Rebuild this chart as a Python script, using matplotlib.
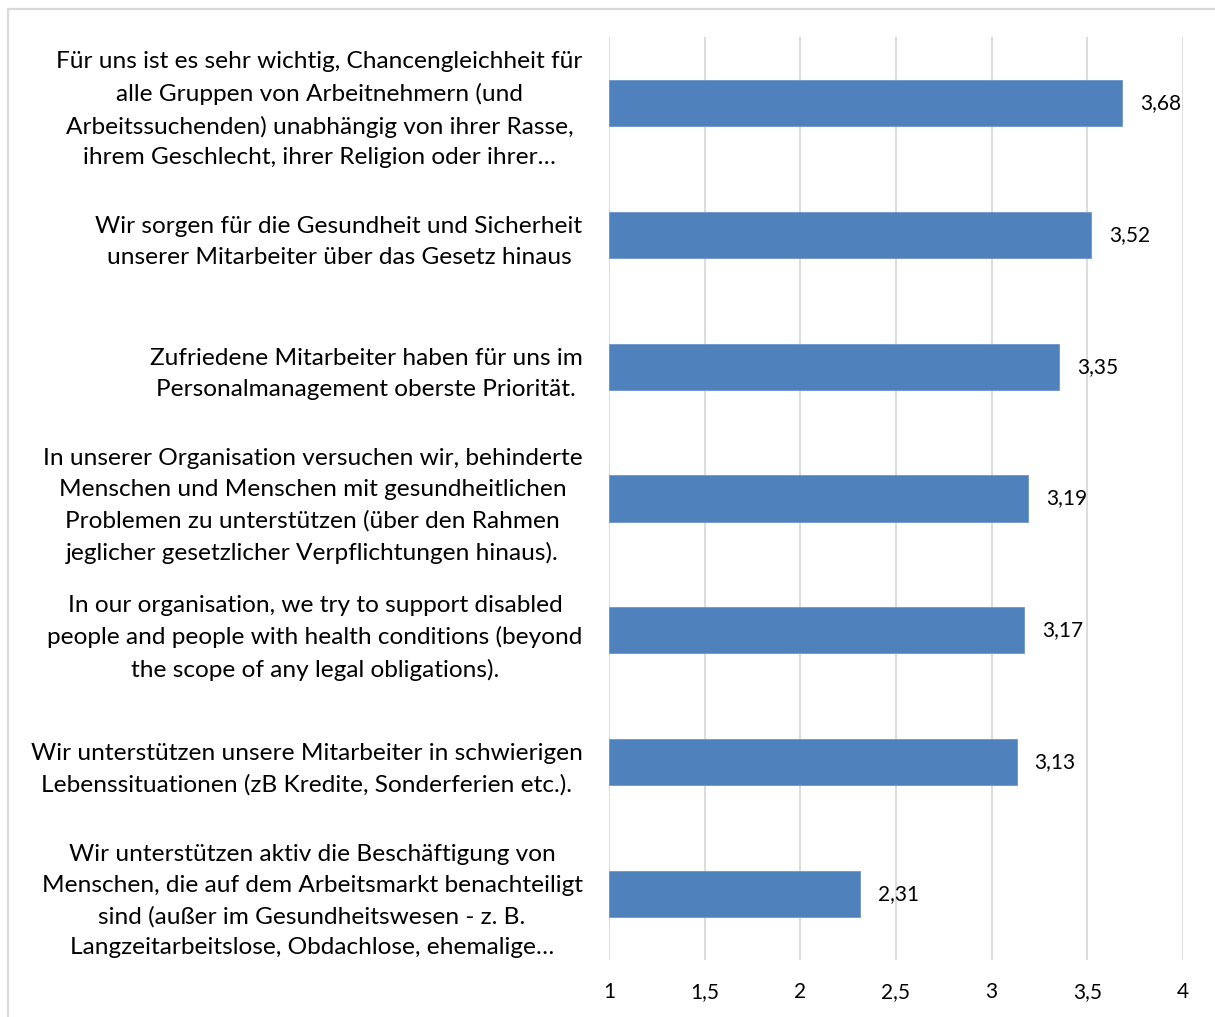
import matplotlib
matplotlib.use("Agg")
import matplotlib.pyplot as plt
from matplotlib.patches import Rectangle

plt.rcParams['font.family'] = ['Lato', 'DejaVu Sans']

categories = [
    "Für uns ist es sehr wichtig, Chancengleichheit für\nalle Gruppen von Arbeitnehmern (und\nArbeitssuchenden) unabhängig von ihrer Rasse,\nihrem Geschlecht, ihrer Religion oder ihrer…",
    "Wir sorgen für die Gesundheit und Sicherheit\nunserer Mitarbeiter über das Gesetz hinaus",
    "Zufriedene Mitarbeiter haben für uns im\nPersonalmanagement oberste Priorität.",
    "In unserer Organisation versuchen wir, behinderte\nMenschen und Menschen mit gesundheitlichen\nProblemen zu unterstützen (über den Rahmen\njeglicher gesetzlicher Verpflichtungen hinaus).",
    "In our organisation, we try to support disabled\npeople and people with health conditions (beyond\nthe scope of any legal obligations).",
    "Wir unterstützen unsere Mitarbeiter in schwierigen\nLebenssituationen (zB Kredite, Sonderferien etc.).",
    "Wir unterstützen aktiv die Beschäftigung von\nMenschen, die auf dem Arbeitsmarkt benachteiligt\nsind (außer im Gesundheitswesen - z. B.\nLangzeitarbeitslose, Obdachlose, ehemalige…",
]
values = [3.68, 3.52, 3.35, 3.19, 3.17, 3.13, 2.31]
x_ticks = [1, 1.5, 2, 2.5, 3, 3.5, 4]
x_tick_labels = ["1", "1,5", "2", "2,5", "3", "3,5", "4"]

W, H = 1215, 1017
fig = plt.figure(figsize=(W / 100, H / 100), dpi=100)
fig.patch.set_facecolor("white")

# outer chart frame (open to the right and bottom)
fig.add_artist(Rectangle((8 / W, -0.01), 1.02, 1 - 9 / H + 0.01,
                         transform=fig.transFigure, fill=False,
                         edgecolor="#D9D9D9", linewidth=1.6))

ax = fig.add_axes([609 / W, 1 - 960 / H, (1183 - 609) / W, (960 - 37) / H])

base = 1.0
y = list(range(len(categories)))
ax.barh(y, [v - base for v in values], left=base, height=0.35,
        color="#4F81BD", edgecolor="#6E96C8", linewidth=0.6, zorder=3)

for yi, v in zip(y, values):
    ax.annotate(f"{v:.2f}".replace(".", ","), (v, yi),
                xytext=(13, 0), textcoords="offset points",
                ha="left", va="center", fontsize=15, color="#000000")

ax.set_xlim(1, 4)
ax.set_ylim(len(categories) - 0.5, -0.5)
ax.set_xticks(x_ticks)
ax.set_xticklabels(x_tick_labels, fontsize=15)
ax.set_yticks(y)
ax.set_yticklabels(categories, fontsize=17.6, multialignment="center",
                   linespacing=1.58)
ax.tick_params(axis="both", length=0)
ax.tick_params(axis="y", pad=19)
ax.tick_params(axis="x", pad=16)

for s in ax.spines.values():
    s.set_visible(False)
ax.grid(axis="x", color="#D9D9D9", linewidth=1.3, zorder=0)
ax.set_axisbelow(True)

fig.savefig("out.png", dpi=100)
